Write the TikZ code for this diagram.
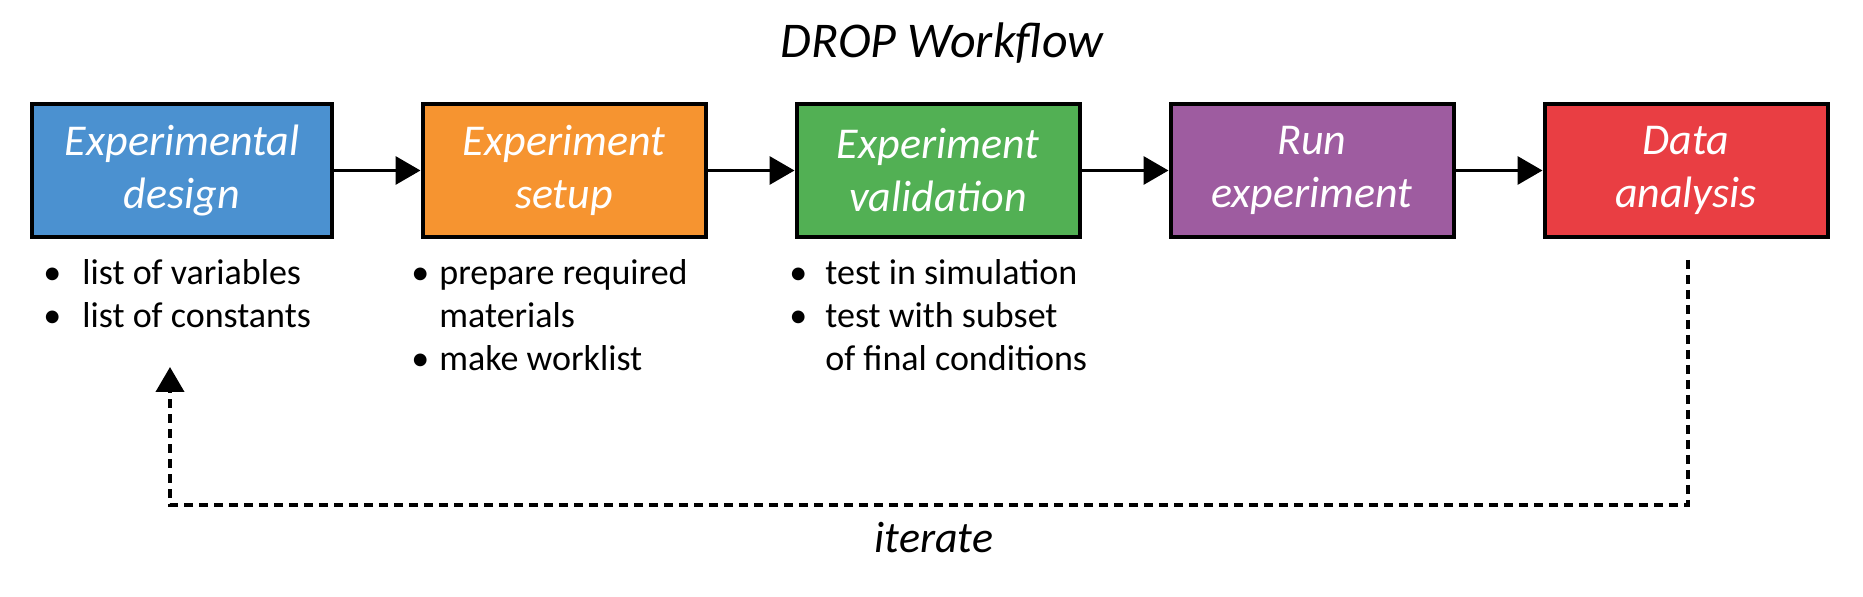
\documentclass[tikz,border=0pt]{standalone}
\usepackage{fontspec}
\setmainfont{Carlito}
\usetikzlibrary{backgrounds,arrows.meta}
\definecolor{xblue}{RGB}{75,145,208}
\definecolor{xorange}{RGB}{246,148,48}
\definecolor{xgreen}{RGB}{82,176,84}
\definecolor{xpurple}{RGB}{158,92,160}
\definecolor{xred}{RGB}{233,62,67}
\newcommand{\bul}[1]{\llap{\textbullet\hspace{#1}}}

\begin{document}
\begin{tikzpicture}[x=0.5pt, y=-0.5pt,
		stage/.style={draw, rectangle, line width=2pt, minimum width=141.5pt, minimum height=66.5pt, inner sep=0pt, align=center, text=white, font=\fontsize{22}{26.5}\selectfont\itshape},
		notes/.style={anchor=base west, inner sep=0pt, font=\fontsize{18}{21.5}\selectfont},
		flow/.style={-{Triangle[length=12.5pt, width=14pt]}, line width=1.7pt},
		loopback/.style={flow, line width=2pt, dash pattern=on 4.5pt off 3pt}]
			\useasboundingbox (0,0) rectangle (1863,597);
			\def \s {374}
			\def \h {170.5}
			\node[anchor=base, font=\fontsize{25}{30}\selectfont\itshape] at (942, 58) (title) {DROP Workflow};
			\node[stage, fill=xblue, minimum width=150pt] at (182, \h) (design) {Experimental\\design};
			\node[stage, fill=xorange] at (564, \h) (setup) {Experiment\\setup};
			\node[stage, fill=xgreen] at (564+\s, \h) (valid) {Experiment\\validation};
			\node[stage, fill=xpurple] at (564+2*\s, \h) (run) {Run\\experiment};
			\node[stage, fill=xred] at (564+3*\s, \h) (analysis) {Data\\analysis};
			\begin{scope}[on background layer]
				\draw[flow] (design) -- (setup);
				\draw[flow] (setup) -- (valid);
				\draw[flow] (valid) -- (run);
				\draw[flow] (run) -- (analysis);
			\end{scope}
			% notes under the stages
			\node[notes] at (82, 285) (designnotes) {\begin{tabular}[t]{@{}l@{}}\bul{10.5pt}list of variables\\ \bul{10.5pt}list of constants\end{tabular}};
			\node[notes] at (439, 285) (setupnotes) {\begin{tabular}[t]{@{}l@{}}\bul{5pt}prepare required\\ materials\\ \bul{5pt}make worklist\end{tabular}};
			\node[notes] at (825, 285) (validnotes) {\begin{tabular}[t]{@{}l@{}}\bul{9pt}test in simulation\\ \bul{9pt}test with subset\\ of final conditions\end{tabular}};
			% feedback loop
			\coordinate (loopstart) at (1688, 260);
			\coordinate (loopend) at (170, 367);
			\coordinate (loopbase) at (0, 505);
			\draw[loopback] (loopstart) |- (loopend |- loopbase) -- (loopend);
			\node[anchor=base, font=\fontsize{22}{26}\selectfont\itshape] at (934, 553) (iter) {iterate};
		\end{tikzpicture}
\end{document}
